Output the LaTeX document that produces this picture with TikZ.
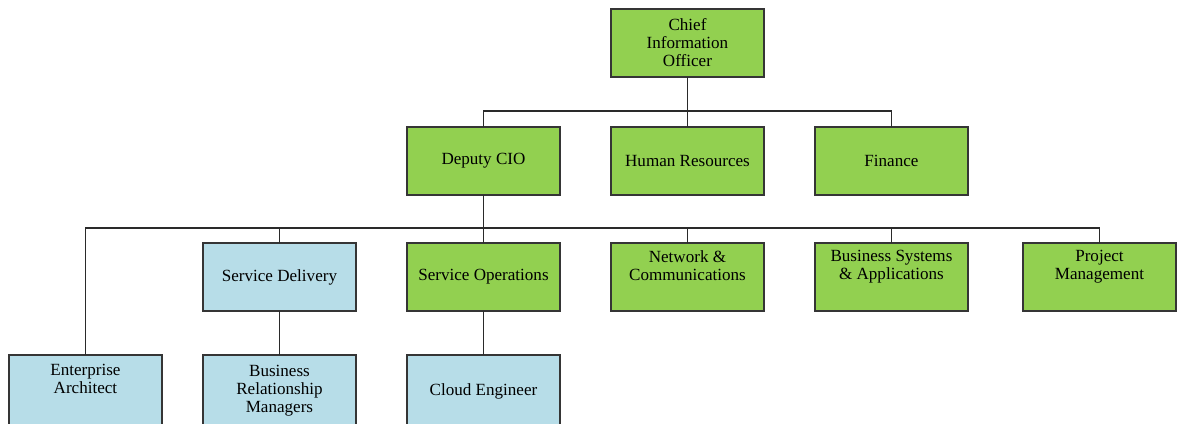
\documentclass[tikz,border=0pt]{standalone}
\usepackage{fontspec}
\setmainfont{Liberation Serif}
\usetikzlibrary{positioning,calc}
\definecolor{OrgGreen}{HTML}{92D050}
\definecolor{OrgBlue}{HTML}{B7DDE8}
\definecolor{OrgEdge}{HTML}{353535}
\definecolor{OrgLine}{HTML}{2A2A2A}
\tikzset{
  unit/.style={draw=OrgEdge, line width=0.9pt, minimum width=114.75pt, minimum height=51pt,
               outer sep=0pt, align=center, inner sep=2pt, font=\fontsize{12.8}{13.5}\selectfont},
  office/.style={unit, fill=OrgGreen},
  staff/.style={unit, fill=OrgBlue},
  role/.style={staff, minimum height=54pt},
  link/.style={draw=OrgLine, line width=0.9pt},
}
% keeps a short label on the upper lines of a three-line box
\newcommand{\pad}{\\\strut}

\begin{document}
\begin{tikzpicture}[node distance=37.5pt and 38.25pt]
    \useasboundingbox (0,0) rectangle (883.5pt,-318pt);
    \clip (0,0) rectangle (883.5pt,-318pt);
    % top level
    \node[office] (cio) at (515.6pt,-32.25pt) {Chief\\Information\\Officer};
    \node[office,below=of cio] (hr) {Human Resources};
    \node[office,left=of hr] (deputy) {Deputy CIO};
    \node[office,right=of hr] (finance) {Finance};
    % units under the deputy
    \node[office,below=36pt of deputy] (ops) {Service Operations};
    \node[staff,left=of ops] (delivery) {Service Delivery};
    \node[office,below=36pt of hr] (network) {Network \&\\Communications\pad};
    \node[office,below=36pt of finance] (systems) {Business Systems\\\& Applications\pad};
    \node[office,right=41.25pt of systems] (projects) {Project\\Management\pad};
    % staff roles
    \node[role,below=33pt of delivery] (brm) {Business\\Relationship\\Managers};
    \node[role,below=33pt of ops] (cloud) {Cloud Engineer};
    \node[role,left=30.75pt of brm] (architect) {Enterprise\\Architect\pad};
    \draw[link] (cio) -- (hr);
    \draw[link] (deputy.north) -- ++(0,12pt) -| (finance.north);
    \draw[link] (deputy) -- (ops);
    \draw[link] (architect.north) |- ($(ops.north)+(0,11.25pt)$) -| (projects.north);
    \draw[link] (delivery.north) -- ++(0,11.25pt);
    \draw[link] (network.north) -- ++(0,11.25pt);
    \draw[link] (systems.north) -- ++(0,11.25pt);
    \draw[link] (delivery) -- (brm);
    \draw[link] (ops) -- (cloud);
  \end{tikzpicture}
\end{document}
